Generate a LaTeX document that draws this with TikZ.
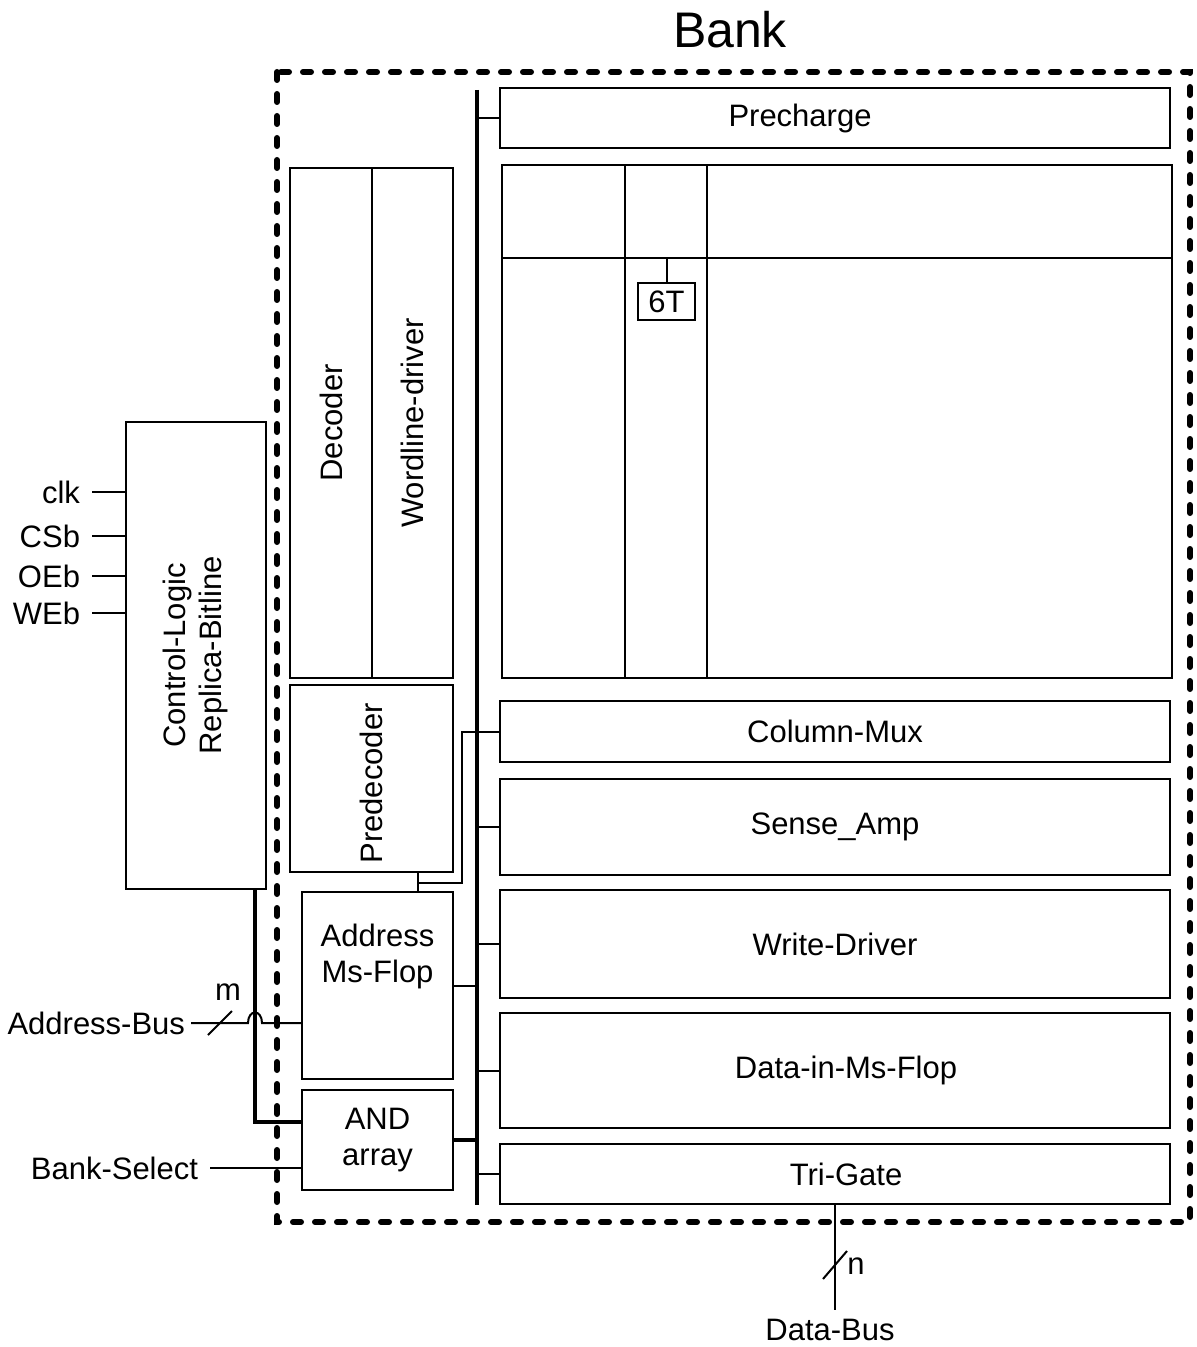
\documentclass[tikz,border=0pt]{standalone}
\usepackage{fontspec}
\setmainfont{Liberation Sans}
\usetikzlibrary{calc}

\begin{document}
\begin{tikzpicture}[x=0.5pt,y=-0.5pt,font=\fontsize{15.5}{18}\selectfont,
  bx/.style={draw,line width=1pt,inner sep=0pt,outer sep=0pt,align=center},
  wire/.style={line width=1pt},
  busw/.style={line width=2.2pt},
  pin/.style={inner sep=2pt,outer sep=4pt,anchor=east}]
  \useasboundingbox (0,0) rectangle (1197,1347);
  \node at (730,30) {\fontsize{25}{30}\selectfont Bank};
  \draw[line width=3pt,line cap=round,dash pattern=on 4pt off 7pt] (277,72) rectangle (1190,1222);
  \node[bx,minimum width=335pt,minimum height=30pt](pre) at (835,118) {\hspace*{-35pt}Precharge};
  \node[bx,minimum width=335pt,minimum height=256.5pt](arr) at (837,421.5) {};
  \node[bx,minimum width=28.5pt,minimum height=18.5pt](six) at (666.5,301.5) {6T};
  \node[bx,minimum width=41pt,minimum height=255pt](dec) at (331,423) {\rotatebox{90}{Decoder}};
  \node[bx,minimum width=40.5pt,minimum height=255pt](wld) at (412.5,423) {\rotatebox{90}{Wordline-driver}};
  \node[bx,minimum width=81.5pt,minimum height=93.5pt](pdec) at (371.5,778.5) {\rotatebox{90}{\hspace*{-5pt}Predecoder}};
  \node[bx,minimum width=335pt,minimum height=30.5pt](cmux) at (835,731.5) {Column-Mux};
  \node[bx,minimum width=335pt,minimum height=48pt](sa) at (835,827) {Sense\_Amp};
  \node[bx,minimum width=335pt,minimum height=54pt](wd) at (835,944) {Write-Driver};
  \node[bx,minimum width=335pt,minimum height=57.5pt](din) at (835,1070.5) {\hspace*{11pt}Data-in-Ms-Flop};
  \node[bx,minimum width=335pt,minimum height=30pt](tri) at (835,1174) {\hspace*{11pt}Tri-Gate};
  \node[bx,minimum width=75.5pt,minimum height=93.5pt](aff) at (377.5,985.5) {Address\\Ms-Flop\\[14pt]};
  \node[bx,minimum width=75.5pt,minimum height=50pt](andar) at (377.5,1140) {AND\\array};
  \node[bx,minimum width=70pt,minimum height=233.5pt](ctrl) at (196,655.5) {\rotatebox{90}{\begin{tabular}{c}Control-Logic\\Replica-Bitline\end{tabular}}};
  \node[pin](clk) at (92,492) {clk};
  \node[pin](csb) at (92,536) {CSb};
  \node[pin](oeb) at (92,576) {OEb};
  \node[pin](web) at (92,613) {WEb};
  \node[pin,outer sep=1pt](abus) at (191,1023) {Address-Bus};
  \node[pin](bsel) at (210,1168) {Bank-Select};
  \node(dbus) at (830,1330) {Data-Bus};
  \node at (228,992) {m};
  \node at (856,1266) {n};
  \draw[wire] (625,165) -- (625,678) (707,165) -- (707,678) (502,258) -- (1172,258);
  \draw[wire] (six.north) -- (666.5,258);
  \draw[wire] (dec.north east) -- (dec.south east);
  \coordinate (bt) at (477,90);
  \coordinate (bb) at (477,1205);
  \draw[busw] (bt) -- (bb);
  \foreach \b in {pre,sa,wd,din,tri}
    \draw[wire] (\b.west) -- (\b.west -| bt);
  \draw[wire] (aff.east) -- (aff.east -| bt);
  \draw[busw] (andar.east) -- (andar.east -| bt);
  \coordinate (pk) at (418,883);
  \draw[wire] (pk |- pdec.south) -- (pk |- aff.north);
  \draw[wire] (pk) -- (462,883) |- (cmux.west);
  \foreach \p in {clk,csb,oeb,web}
    \draw[wire] (\p.east) -- (\p.east -| ctrl.west);
  \coordinate (cdn) at (255,1122);
  \draw[busw] (cdn |- ctrl.south) -- (cdn) -- (cdn -| andar.west);
  \coordinate (hop) at (cdn |- abus.east);
  \draw[wire] (abus.east) -- ([xshift=-3.5pt]hop) .. controls ([xshift=-3.5pt,yshift=7pt]hop) and ([xshift=3.5pt,yshift=7pt]hop) .. ([xshift=3.5pt]hop) -- (abus.east -| aff.west);
  \coordinate (sl) at (220,1023);
  \draw[wire] ([shift={(-6pt,-6pt)}]sl) -- ([shift={(6pt,6pt)}]sl);
  \draw[wire] (bsel.east) -- (bsel.east -| andar.west);
  \draw[wire] (tri.south -| 835,0) -- (835,1310);
  \coordinate (sn) at (835,1265);
  \draw[wire] ([shift={(-6pt,-7pt)}]sn) -- ([shift={(6pt,7pt)}]sn);
\end{tikzpicture}
\end{document}
